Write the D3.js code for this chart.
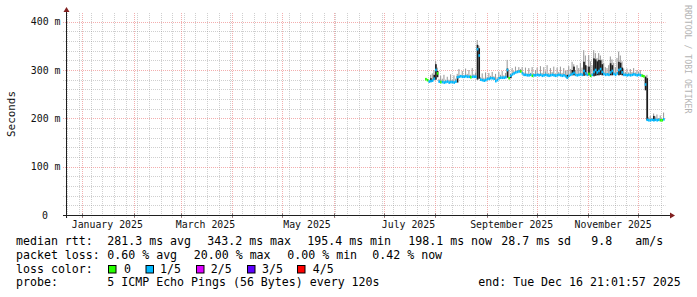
<!DOCTYPE html>
<html>
<head>
<meta charset="utf-8">
<script src="https://cdn.jsdelivr.net/npm/d3@7"></script>
<style>
  html, body { margin: 0; padding: 0; background: #fff; }
  svg { display: block; }
  text { font-family: "DejaVu Sans Mono", monospace; }
</style>
</head>
<body>
<div id="graph"></div>
<script>
// Données : une valeur par jour à partir du 26 juillet 2025
var graphStart = new Date(2024, 11, 21, 21, 1, 57);
var graphEnd = new Date(2025, 11, 16, 21, 1, 57);
var firstDay = new Date(2025, 6, 26);

// médiane (ms)
var medianRtt = [
  281, 279, 276, 277, 278, 282, 300, 293, 276, 275,
  275, 274, 275, 276, 274, 275, 275, 274, 276, 285,
  286, 287, 286, 286, 287, 286, 286, 285, 286, 286,
  286, 343, 330, 280, 279, 278, 279, 281, 282, 283,
  283, 282, 277, 279, 283, 284, 284, 284, 285, 300,
  283, 288, 291, 293, 295, 296, 297, 297, 293, 290,
  290, 289, 289, 290, 288, 289, 289, 290, 289, 290,
  288, 289, 290, 289, 288, 289, 290, 289, 288, 289,
  290, 289, 288, 289, 287, 284, 288, 290, 292, 294,
  290, 289, 290, 291, 290, 298, 293, 290, 292, 288,
  290, 296, 300, 295, 298, 302, 296, 292, 290, 291,
  290, 295, 298, 292, 290, 293, 300, 302, 295, 290,
  290, 289, 290, 289, 290, 291, 290, 289, 290, 289,
  288, 287, 270, 197, 196, 196, 197, 196, 197, 196,
  197, 196, 196, 198
];

// haut de la fumée claire (ms)
var smokeTop = [
  283, 281, 280, 290, 293, 300, 318, 305, 282, 288,
  282, 290, 280, 286, 280, 291, 280, 289, 282, 292,
  302, 290, 298, 290, 303, 292, 300, 290, 304, 291,
  295, 362, 350, 285, 293, 284, 295, 286, 294, 288,
  296, 287, 292, 285, 296, 290, 298, 289, 294, 321,
  300, 292, 304, 298, 307, 300, 306, 302, 306, 295,
  305, 293, 304, 294, 306, 293, 300, 305, 293, 308,
  294, 306, 297, 310, 294, 304, 296, 307, 293, 305,
  296, 307, 294, 304, 298, 300, 308, 302, 317, 312,
  300, 310, 304, 315, 305, 341, 330, 308, 331, 318,
  310, 341, 335, 325, 335, 330, 322, 315, 306, 304,
  310, 328, 322, 315, 306, 325, 338, 330, 318, 303,
  296, 303, 295, 302, 296, 304, 295, 300, 296, 300,
  292, 290, 288, 290, 202, 205, 200, 210, 204, 208,
  200, 206, 200, 212
];

// fumée sombre : [jour, bas, haut]
var darkSmoke = [
  [3, 276, 283], [5, 279, 290], [6, 280, 312], [7, 285, 298], [19, 274, 287],
  [31, 280, 352], [32, 282, 345], [49, 284, 303], [51, 283, 290], [85, 283, 290],
  [88, 289, 300], [89, 289, 307], [95, 288, 317], [96, 289, 310], [98, 289, 307],
  [101, 287, 324], [102, 288, 322], [103, 289, 318], [104, 289, 321], [105, 290, 320],
  [106, 289, 312], [111, 289, 314], [112, 289, 310], [116, 289, 317], [117, 290, 315],
  [118, 289, 305], [132, 258, 286], [133, 196, 283], [137, 195, 205]
];

// jours sans perte (médiane verte), les autres sont à 1/5
var zeroLossDays = [0, 1, 7, 9, 27, 50, 57, 64, 98, 99, 130, 131, 141, 142];

var yTicks = [0, 100, 200, 300, 400];
var yTickLabels = ["0", "100 m", "200 m", "300 m", "400 m"];
var labelMonths = [new Date(2025, 0, 1), new Date(2025, 2, 1), new Date(2025, 4, 1),
                   new Date(2025, 6, 1), new Date(2025, 8, 1), new Date(2025, 10, 1)];

var rttLegend = ["median rtt:", "281.3 ms avg", "343.2 ms max", "195.4 ms min", "198.1 ms now", "28.7 ms sd", "9.8", "am/s"];
var lossLegend = ["packet loss:", "0.60 % avg", "20.00 % max", "0.00 % min", "0.42 % now"];
var lossLabels = ["0", "1/5", "2/5", "3/5", "4/5"];
var lossColors = ["#26ff00", "#00b8ff", "#dd00ff", "#5e00ff", "#ff0000"];
var probeLegend = ["probe:", "5 ICMP Echo Pings (56 Bytes) every 120s", "end: Tue Dec 16 21:01:57 2025"];

// Mise en page
var W = 697, H = 297;
var svg = d3.select("#graph").append("svg")
  .attr("width", W).attr("height", H);

var x = d3.scaleTime().domain([graphStart, graphEnd]).range([65.5, 664.5]);
var y = d3.scaleLinear().domain([0, 420]).range([215, 12]);

var gridTop = 13, plotLeft = 66.5, plotRight = 665.5, axisY = 215.5;
var minorColor = "rgba(140,140,140,0.42)", majorColor = "rgba(235,120,120,0.6)";

// grille mineure horizontale
var minorY = d3.range(20, 420, 20).filter(function(v) { return v % 100 !== 0; });
svg.append("g").selectAll("line").data(minorY).enter().append("line")
  .attr("x1", 63).attr("x2", plotRight)
  .attr("y1", function(d) { return Math.round(y(d)) + 0.5; })
  .attr("y2", function(d) { return Math.round(y(d)) + 0.5; })
  .attr("stroke", minorColor).attr("stroke-dasharray", "1,1");

// grille mineure verticale (lundis)
var mondays = d3.timeMonday.range(graphStart, graphEnd).filter(function(d) {
  return d.getDate() !== 1;
});
svg.append("g").selectAll("line").data(mondays).enter().append("line")
  .attr("x1", function(d) { return Math.round(x(d)) + 0.5; })
  .attr("x2", function(d) { return Math.round(x(d)) + 0.5; })
  .attr("y1", gridTop).attr("y2", axisY + 2)
  .attr("stroke", minorColor).attr("stroke-dasharray", "1,1");

// grille majeure
var majorY = yTicks.filter(function(v) { return v > 0; });
svg.append("g").selectAll("line").data(majorY).enter().append("line")
  .attr("x1", 63).attr("x2", plotRight)
  .attr("y1", function(d) { return Math.round(y(d)) + 0.5; })
  .attr("y2", function(d) { return Math.round(y(d)) + 0.5; })
  .attr("stroke", majorColor).attr("stroke-dasharray", "1,1");

var months = d3.timeMonth.range(graphStart, graphEnd);
svg.append("g").selectAll("line").data(months).enter().append("line")
  .attr("x1", function(d) { return Math.round(x(d)) + 0.5; })
  .attr("x2", function(d) { return Math.round(x(d)) + 0.5; })
  .attr("y1", gridTop).attr("y2", axisY + 3)
  .attr("stroke", majorColor).attr("stroke-dasharray", "1,1");

// fumée et médiane
function dayDate(i) { return d3.timeDay.offset(firstDay, i); }
function dayX(i) { return x(dayDate(i)); }
function dayW(i) { return x(dayDate(i + 1)) - x(dayDate(i)); }

svg.append("g").selectAll("rect").data(medianRtt).enter().append("rect")
  .attr("x", function(d, i) { return dayX(i); })
  .attr("width", function(d, i) { return dayW(i) - 0.6; })
  .attr("y", function(d, i) { return y(smokeTop[i]); })
  .attr("height", function(d, i) { return Math.max(0, y(d) - y(smokeTop[i])); })
  .attr("fill", "#9c9c9c");

svg.append("g").selectAll("rect").data(darkSmoke).enter().append("rect")
  .attr("x", function(d) { return dayX(d[0]); })
  .attr("width", function(d) { return dayW(d[0]); })
  .attr("y", function(d) { return y(d[2]); })
  .attr("height", function(d) { return y(d[1]) - y(d[2]); })
  .attr("fill", "#1c1c1c");

svg.append("g").selectAll("rect").data(medianRtt).enter().append("rect")
  .attr("x", function(d, i) { return dayX(i); })
  .attr("width", function(d, i) { return dayW(i); })
  .attr("y", function(d) { return y(d) - 1.3; })
  .attr("height", 2.6)
  .attr("fill", function(d, i) {
    return zeroLossDays.indexOf(i) >= 0 ? lossColors[0] : lossColors[1];
  });

// axes
var axisColor = "#1f1f1f", arrowColor = "#801f1f";
svg.append("line").attr("x1", 63).attr("x2", 670).attr("y1", axisY).attr("y2", axisY)
  .attr("stroke", axisColor);
svg.append("line").attr("x1", plotLeft).attr("x2", plotLeft).attr("y1", 218).attr("y2", 12)
  .attr("stroke", axisColor);
svg.append("path").attr("d", "M670,212.5 L675,215.5 L670,218.5 Z").attr("fill", arrowColor);
svg.append("path").attr("d", "M63.5,12 L66.5,7 L69.5,12 Z").attr("fill", arrowColor);

svg.append("g").selectAll("line").data(months).enter().append("line")
  .attr("x1", function(d) { return Math.round(x(d)) + 0.5; })
  .attr("x2", function(d) { return Math.round(x(d)) + 0.5; })
  .attr("y1", axisY - 2).attr("y2", axisY + 2)
  .attr("stroke", axisColor).attr("stroke-width", 0.6);

// étiquettes des axes
svg.append("g").selectAll("text").data(yTicks).enter().append("text")
  .attr("x", function(d) { return d === 0 ? 48 : 60.5; })
  .attr("y", function(d) { return y(d) + 3.6; })
  .attr("text-anchor", "end")
  .attr("font-size", "9.9px").attr("fill", "#111")
  .text(function(d, i) { return yTickLabels[i]; });

svg.append("g").selectAll("text").data(labelMonths).enter().append("text")
  .attr("x", function(d) { return x(d3.timeDay.offset(d, 15)); })
  .attr("y", 228.3)
  .attr("text-anchor", "middle")
  .attr("font-size", "9.85px").attr("fill", "#111")
  .text(function(d) { return d3.timeFormat("%B %Y")(d); });

svg.append("text")
  .attr("transform", "translate(14.5,114) rotate(-90)")
  .attr("text-anchor", "middle")
  .attr("font-size", "10.9px").attr("fill", "#111")
  .text("Seconds");

svg.append("text")
  .attr("transform", "translate(684.5,5) rotate(90)")
  .attr("font-size", "8.2px").attr("fill", "#b4b4b4")
  .text("RRDTOOL / TOBI OETIKER");

// légende
var legendFont = "11.6px";
function legendRow(texts, xs, baseY) {
  svg.append("g").selectAll("text").data(texts).enter().append("text")
    .attr("x", function(d, i) { return xs[i]; })
    .attr("y", baseY)
    .attr("font-size", legendFont).attr("fill", "#000")
    .text(function(d) { return d; });
}
legendRow(rttLegend, [16, 107.3, 207.3, 307.3, 408.3, 501.3, 591.3, 635.3], 245.2);
legendRow(lossLegend, [16, 107.3, 193.8, 287.3, 372.3], 258.9);
legendRow(["loss color:"], [16], 272.6);
legendRow(probeLegend, [16, 107.3, 478.3], 286.3);

var boxX = [108.5, 146, 196.5, 247.5, 297.5];
var labelX = [124, 160, 210.7, 262, 312.7];
svg.append("g").selectAll("rect").data(lossColors).enter().append("rect")
  .attr("x", function(d, i) { return boxX[i]; })
  .attr("y", 265.5).attr("width", 7.5).attr("height", 7.5)
  .attr("fill", function(d) { return d; })
  .attr("stroke", "#000").attr("stroke-width", 1);
legendRow(lossLabels, labelX, 272.6);
</script>
</body>
</html>
